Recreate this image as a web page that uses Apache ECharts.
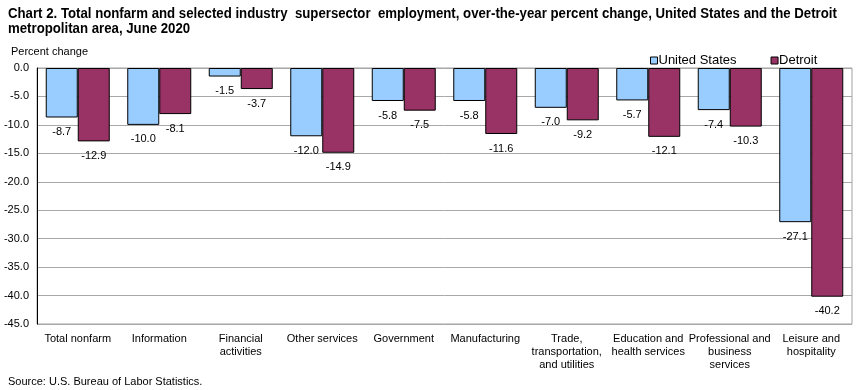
<!DOCTYPE html>
<html><head><meta charset="utf-8">
<script src="https://cdn.jsdelivr.net/npm/echarts@6/dist/echarts.min.js"></script>
<style>html,body{margin:0;padding:0;background:#fff}#c{width:861px;height:390px}</style>
</head><body><div id="c"></div>
<script>
const categories = ['Total nonfarm','Information','Financial\nactivities','Other services','Government','Manufacturing','Trade,\ntransportation,\nand utilities','Education and\nhealth services','Professional and\nbusiness\nservices','Leisure and\nhospitality'];
const usValues = [-8.7,-10.0,-1.5,-12.0,-5.8,-5.8,-7.0,-5.7,-7.4,-27.1];
const detroitValues = [-12.9,-8.1,-3.7,-14.9,-7.5,-11.6,-9.2,-12.1,-10.3,-40.2];
const seriesNames = ['United States','Detroit'];
const titleText = 'Chart 2. Total nonfarm and selected industry  supersector  employment, over-the-year percent change, United States and the Detroit\nmetropolitan area, June 2020';

const chart = echarts.init(document.getElementById('c'), null, {renderer:'canvas'});
const lbl = {show:true, position:'bottom', distance:9, color:'#000', fontFamily:'Arial, Liberation Sans, sans-serif', fontSize:11, formatter: p => p.value.toFixed(1)};
chart.setOption({
  animation:false,
  textStyle:{fontFamily:'Arial, Liberation Sans, sans-serif'},
  graphic:[{
    type:'text', x:8, y:6, scaleX:0.944, scaleY:1,
    style:{text:titleText, font:'bold 14px "Liberation Sans", Arial, sans-serif', fill:'#000', lineHeight:15.5}
  }],
  title:[{
    text:'Percent change', left:6, top:41,
    textStyle:{fontSize:11, fontWeight:'normal', color:'#000'}
  },{
    text:'Source: U.S. Bureau of Labor Statistics.', left:3, top:371,
    textStyle:{fontSize:11, fontWeight:'normal', color:'#000'}
  }],
  legend:{
    data:seriesNames, left:645, top:49, icon:'rect', itemWidth:7, itemHeight:7, itemGap:34,
    textStyle:{fontSize:13, color:'#000', padding:[0,0,0,-4]},
    itemStyle:{borderColor:'#000', borderWidth:1}
  },
  grid:{left:37, right:9, top:68, bottom:66, show:true, borderColor:'#a0a0a0', borderWidth:1},
  xAxis:{
    type:'category', data:categories, position:'bottom',
    axisLine:{show:false, onZero:false}, axisTick:{show:false},
    axisLabel:{interval:0, color:'#000', fontSize:11, lineHeight:13, margin:8}
  },
  yAxis:{
    type:'value', min:-45, max:0, interval:5,
    axisLine:{show:true, lineStyle:{color:'#000'}}, axisTick:{show:false},
    axisLabel:{color:'#000', fontSize:11, formatter:v=>v.toFixed(1), margin:8},
    splitLine:{lineStyle:{color:'#a8a8a8'}}
  },
  series:[
    {name:seriesNames[0], type:'bar', data:usValues, barWidth:32, barGap:'0%',
     itemStyle:{color:'#99ccff', borderColor:'#000', borderWidth:1}, label:lbl},
    {name:seriesNames[1], type:'bar', data:detroitValues, barWidth:32,
     itemStyle:{color:'#993366', borderColor:'#000', borderWidth:1}, label:lbl}
  ]
});
</script></body></html>
